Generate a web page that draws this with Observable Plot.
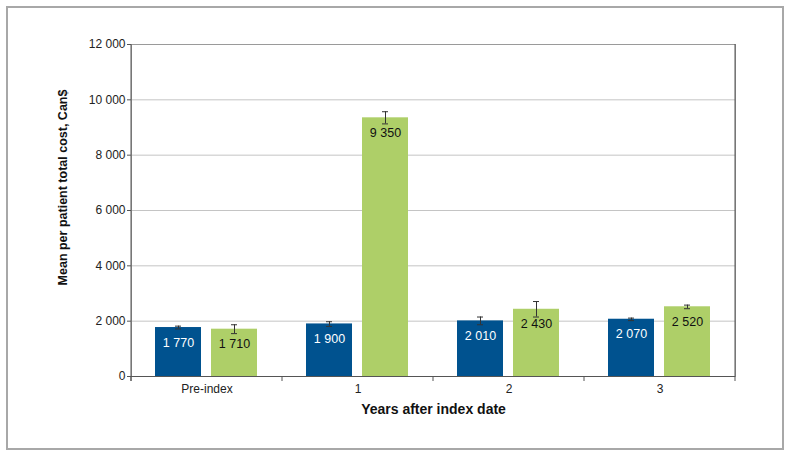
<!DOCTYPE html>
<html><head><meta charset="utf-8">
<script src="https://cdn.jsdelivr.net/npm/d3@7"></script>
<script src="https://cdn.jsdelivr.net/npm/@observablehq/plot@0.6"></script>
<style>
body{margin:0;background:#fff;}
#wrap{position:relative;width:791px;height:456px;overflow:hidden;}
#wrap svg{position:absolute;left:0;top:0;}
#border{position:absolute;left:6px;top:6px;width:774px;height:440px;border:2px solid #a8a8a8;pointer-events:none;}
</style></head><body><div id="wrap"><div id="border"></div></div>
<script>
const groups = ["Pre-index", "1", "2", "3"];
const seriesNames = ["Series 1", "Series 2"];
const series1 = [1770, 1900, 2010, 2070];
const series2 = [1710, 9350, 2430, 2520];
const low1 = [1720, 1810, 1870, 2020];
const high1 = [1820, 1980, 2150, 2110];
const low2 = [1550, 9130, 2150, 2450];
const high2 = [1870, 9570, 2710, 2580];
const yTicks = [0, 2000, 4000, 6000, 8000, 10000, 12000];
const yLabel = "Mean per patient total cost, Can$";
const xLabel = "Years after index date";
const colors = ["#00528f", "#aecf68"];
const labelColors = ["#ffffff", "#111111"];

const rows = [];
groups.forEach((g, i) => {
  rows.push({group: g, series: seriesNames[0], value: series1[i], low: low1[i], high: high1[i]});
  rows.push({group: g, series: seriesNames[1], value: series2[i], low: low2[i], high: high2[i]});
});

const fmt = d3.formatLocale({decimal: ".", thousands: " ", grouping: [3], currency: ["", ""]}).format(",d");
const font = "'Liberation Sans', Arial, Helvetica, sans-serif";

const chart = Plot.plot({
  width: 791, height: 456,
  marginLeft: 131, marginRight: 56, marginTop: 44, marginBottom: 80,
  style: {fontFamily: font, fontSize: "12px", color: "#222", background: "transparent"},
  fx: {domain: groups, padding: 0, label: null},
  x: {domain: seriesNames, paddingInner: 0.17, paddingOuter: 0.43, align: 0.5, axis: null},
  y: {domain: [0, 12000]},
  color: {domain: seriesNames, range: colors},
  marks: [
    Plot.gridY(yTicks, {stroke: "#c4c4c4", strokeOpacity: 1}),
    Plot.barY(rows, {fx: "group", x: "series", y: "value", fill: "series"}),
    Plot.text(rows, {filter: d => d.series === seriesNames[0], fx: "group", x: "series", y: "value", text: d => fmt(d.value), fill: labelColors[0], dy: 15, fontSize: 12.5}),
    Plot.text(rows, {filter: d => d.series === seriesNames[1], fx: "group", x: "series", y: "value", text: d => fmt(d.value), fill: labelColors[1], dy: 15, fontSize: 12.5}),
    Plot.ruleX(rows, {fx: "group", x: "series", y1: "low", y2: "high", stroke: "#333", strokeWidth: 1}),
    Plot.tickY(rows, {fx: "group", x: "series", y: "low", stroke: "#333", insetLeft: 20, insetRight: 20}),
    Plot.tickY(rows, {fx: "group", x: "series", y: "high", stroke: "#333", insetLeft: 20, insetRight: 20}),
    Plot.frame({facet: "super", stroke: "#9a9a9a"}),
    Plot.ruleY([0], {stroke: "#555"}),
    Plot.axisY(yTicks, {tickSize: 4, tickPadding: 2, tickFormat: fmt, label: null, stroke: "#555"}),
    Plot.axisFx({anchor: "bottom", tickSize: 0, tickPadding: 8, label: null}),
    Plot.text([yLabel], {facet: "super", frameAnchor: "left", textAnchor: "middle", lineAnchor: "middle", rotate: -90, dx: -69, dy: -23, fontWeight: "bold", fontSize: 12.5, fill: "#111"}),
    Plot.text([xLabel], {facet: "super", frameAnchor: "bottom", lineAnchor: "middle", dy: 33, fontWeight: "bold", fontSize: 14, fill: "#111"})
  ]
});

document.getElementById("wrap").insertBefore(chart, document.getElementById("border"));

// group boundary ticks and darker axis lines, positioned from Plot's own scales
const fxs = chart.scale("fx");
const ys = chart.scale("y");
const y0 = ys.apply ? ys.apply(0) : 456 - 80;
const yTop = ys.apply ? ys.apply(12000) : 44;
const step = fxs.step || ((fxs.range[1] - fxs.range[0]) / groups.length);
const left = fxs.range[0];
const edges = d3.range(groups.length + 1).map(i => left + i * step);
const svg = d3.select(chart);
const g = svg.append("g").attr("stroke", "#555").attr("stroke-width", 1);
g.selectAll("line.b").data(edges).join("line")
  .attr("x1", d => d).attr("x2", d => d)
  .attr("y1", y0).attr("y2", y0 + 5);
g.append("line").attr("x1", left).attr("x2", left).attr("y1", yTop).attr("y2", y0 + 5);
g.append("line").attr("x1", edges[edges.length - 1]).attr("x2", edges[edges.length - 1]).attr("y1", yTop).attr("y2", y0);
</script>
</body></html>
